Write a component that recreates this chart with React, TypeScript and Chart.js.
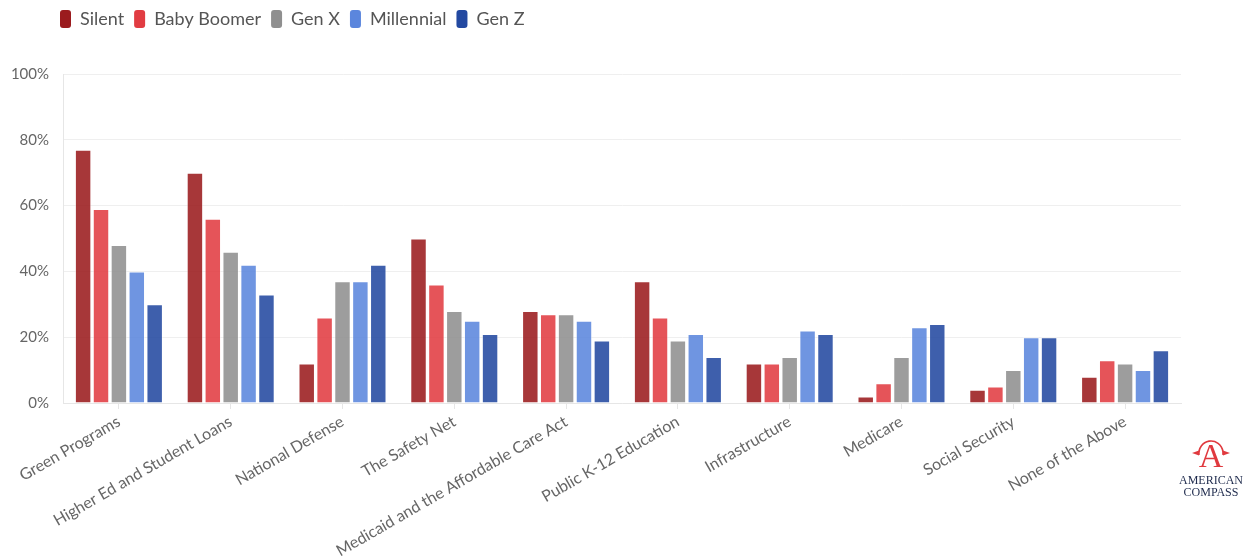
import React, { useEffect, useRef } from "react";
import { Chart, registerables } from "chart.js";

Chart.register(...registerables);

const categories = [
  "Green Programs",
  "Higher Ed and Student Loans",
  "National Defense",
  "The Safety Net",
  "Medicaid and the Affordable Care Act",
  "Public K-12 Education",
  "Infrastructure",
  "Medicare",
  "Social Security",
  "None of the Above",
];

const silent = [77, 70, 12, 50, 28, 37, 12, 2, 4, 8];
const babyBoomer = [59, 56, 26, 36, 27, 26, 12, 6, 5, 13];
const genX = [48, 46, 37, 28, 27, 19, 14, 14, 10, 12];
const millennial = [40, 42, 37, 25, 25, 21, 22, 23, 20, 10];
const genZ = [30, 33, 42, 21, 19, 14, 21, 24, 20, 16];

const yTicks = [0, 20, 40, 60, 80, 100];

const FONT = "Lato, 'Open Sans', sans-serif";

// Extra room between the legend and the plot area, and an indented legend row
const legendSpacer = {
  id: "legendSpacer",
  beforeInit(chart: any) {
    const legend = chart.legend;
    if (!legend) return;
    const origFit = legend.fit;
    legend.fit = function () {
      origFit.call(this);
      this.height += 36;
    };
  },
  afterLayout(chart: any) {
    if (chart.legend) chart.legend.left = 50;
  },
};

// Publisher mark drawn in the lower right corner
const logoPlugin = {
  id: "logoMark",
  afterDraw(chart: any) {
    const ctx = chart.ctx;
    const cx = 1211;
    ctx.save();
    ctx.fillStyle = "#e0393e";
    ctx.strokeStyle = "#e0393e";
    ctx.lineWidth = 1.6;
    ctx.beginPath();
    ctx.arc(cx, 453, 12, Math.PI * 0.95, Math.PI * 2.05);
    ctx.stroke();
    ctx.beginPath();
    ctx.moveTo(cx - 19, 453);
    ctx.lineTo(cx - 12, 450.5);
    ctx.lineTo(cx - 12, 455.5);
    ctx.closePath();
    ctx.fill();
    ctx.beginPath();
    ctx.moveTo(cx + 19, 453);
    ctx.lineTo(cx + 12, 450.5);
    ctx.lineTo(cx + 12, 455.5);
    ctx.closePath();
    ctx.fill();
    ctx.font = "34px 'Liberation Serif', 'DejaVu Serif', serif";
    ctx.textAlign = "center";
    ctx.textBaseline = "alphabetic";
    ctx.fillText("A", cx, 467);
    ctx.fillStyle = "#1f2b4d";
    ctx.font = "12px 'Liberation Serif', 'DejaVu Serif', serif";
    ctx.fillText("AMERICAN", cx, 484);
    ctx.fillText("COMPASS", cx, 496);
    ctx.restore();
  },
};

export default function App() {
  const canvasRef = useRef<HTMLCanvasElement | null>(null);

  useEffect(() => {
    if (!canvasRef.current) return;
    const mk = (label: string, data: number[], rgb: string) => ({
      label,
      data,
      backgroundColor: `rgba(${rgb},0.88)`,
      borderColor: "rgba(255,255,255,0.45)",
      borderWidth: 1,
      categoryPercentage: 0.8,
      barPercentage: 0.92,
    });
    const legendColors = ["#9b1b1e", "#e13c42", "#8f8f8f", "#5b86dd", "#2349a1"];
    const chart = new Chart(canvasRef.current, {
      type: "bar",
      data: {
        labels: categories,
        datasets: [
          mk("Silent", silent, "155,27,30"),
          mk("Baby Boomer", babyBoomer, "225,60,66"),
          mk("Gen X", genX, "143,143,143"),
          mk("Millennial", millennial, "91,134,221"),
          mk("Gen Z", genZ, "35,73,161"),
        ],
      },
      options: {
        animation: false,
        responsive: false,
        layout: { padding: { top: 0, right: 68, left: 0, bottom: 0 } },
        plugins: {
          legend: {
            position: "top",
            align: "start",
            labels: {
              boxWidth: 11,
              boxHeight: 18,
              useBorderRadius: true,
              borderRadius: 3,
              color: "#555",
              padding: 10,
              font: { family: FONT, size: 18 },
              generateLabels(chart: any) {
                return chart.data.datasets.map((ds: any, i: number) => ({
                  text: ds.label,
                  fillStyle: legendColors[i],
                  strokeStyle: legendColors[i],
                  lineWidth: 0,
                  fontColor: "#555",
                  datasetIndex: i,
                  borderRadius: 3,
                }));
              },
            },
          },
          tooltip: { enabled: false },
        },
        scales: {
          x: {
            afterFit(scale: any) {
              scale.height = 156;
            },
            grid: {
              offset: false,
              drawOnChartArea: false,
              color: "#e6e6e6",
              tickLength: 6,
            },
            border: { color: "#e6e6e6" },
            ticks: {
              autoSkip: false,
              minRotation: 30,
              maxRotation: 30,
              color: "#666",
              font: { family: FONT, size: 16 },
            },
          },
          y: {
            min: 0,
            max: 100,
            afterFit(scale: any) {
              scale.width = 63;
            },
            afterBuildTicks(scale: any) {
              scale.ticks = yTicks.map((v) => ({ value: v }));
            },
            grid: { color: "#efefef", drawTicks: false },
            border: { color: "#e6e6e6" },
            ticks: {
              padding: 14,
              color: "#666",
              font: { family: FONT, size: 15 },
              callback: (v: any) => `${v}%`,
            },
          },
        },
      },
      plugins: [legendSpacer, logoPlugin],
    } as any);
    return () => chart.destroy();
  }, []);

  return (
    <div style={{ position: "fixed", left: 0, top: 0, width: 1249, height: 559, background: "#fff" }}>
      <canvas ref={canvasRef} width={1249} height={559} style={{ display: "block" }} />
    </div>
  );
}
